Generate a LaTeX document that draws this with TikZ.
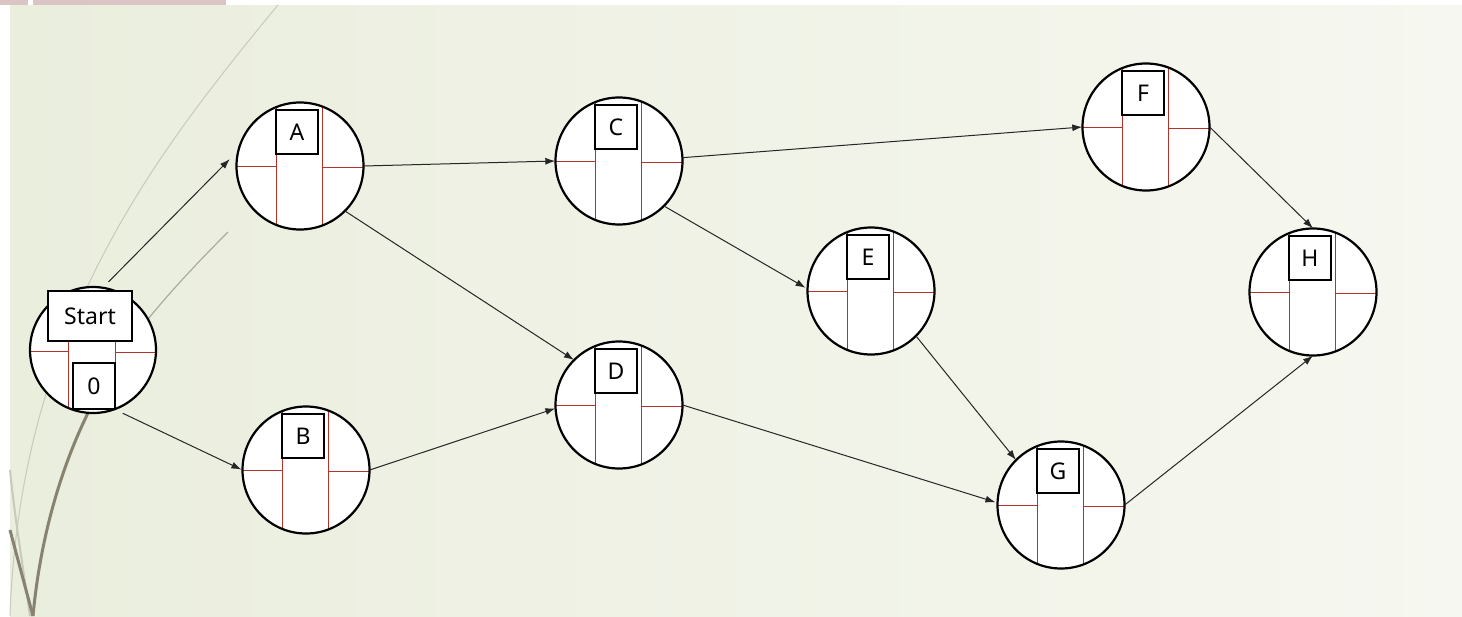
\documentclass[tikz,border=0pt]{standalone}
\usepackage{fontspec}
\setmainfont{Noto Sans}
\usetikzlibrary{arrows.meta,calc}

\definecolor{bgleft}{RGB}{234,238,221}
\definecolor{bgright}{RGB}{246,247,240}
\definecolor{divred}{RGB}{176,52,44}
\definecolor{wispthin}{RGB}{200,202,188}
\definecolor{wispmid}{RGB}{172,172,154}
\definecolor{wispdark}{RGB}{136,130,112}
\definecolor{tabpink}{RGB}{218,196,196}

\tikzset{
  ring/.style={draw=black, line width=2.2pt},
  actcircle/.style={circle, fill=white, inner sep=0pt, minimum size=127pt},
  divider/.style={draw=divred, line width=1pt},
  labelbox/.style={draw=black, line width=2pt, fill=white, inner sep=0pt,
    minimum width=42pt, minimum height=44pt, font=\fontsize{23}{26}\selectfont},
  arr/.style={draw=black!85, line width=1pt, -{Latex[length=10pt,width=7pt]}},
}

% activity circle: name, x, y, label
\newcommand\actnode[4]{%
  \node[actcircle] (#1) at (#2,#3) {};
  \begin{scope}[shift={(#2,#3)}]
    \draw[divider] (-24,-58.8) -- (-24,58.8);
    \draw[divider] (22,-59.6) -- (22,59.6);
    \draw[divider] (-63.5,0) -- (-24,0);
    \draw[divider] (22,1) -- (63.5,1);
  \end{scope}
  \draw[ring] (#1.center) circle[radius=63.5];
  \node[labelbox] (#1-lbl) at (#2-3,#3-34) {#4};
}

\begin{document}
\begin{tikzpicture}[x=1pt,y=-1pt]
  \useasboundingbox (0,0) rectangle (1462,616);
  % slide background
  \fill[white] (0,0) rectangle (1462,616);
  \fill[left color=bgleft, right color=bgright] (10,5) rectangle (1462,616);
  \fill[tabpink] (0,0) rectangle (28,5);
  \fill[tabpink] (33,0) rectangle (226,5);

  % decorative wisps
  \draw[wispthin, line width=1pt] (278,5) .. controls (150,160) and (20,330) .. (10,616);
  \draw[wispmid, line width=1.2pt] (228,232) .. controls (160,300) and (110,360) .. (88,413);
  \draw[wispdark, line width=3pt] (88,413) .. controls (60,470) and (40,540) .. (33,616);
  \draw[wispthin, line width=2pt] (10,470) .. controls (15,520) and (25,580) .. (30,616);
  \draw[wispdark, line width=3pt] (10,530) .. controls (18,560) and (26,590) .. (33,616);

  % start event
  \node[actcircle, minimum size=126pt] (Start) at (93,350) {};
  \draw[divider] (68,292.2) -- (68,407.8);
  \draw[divider] (115,291) -- (115,409);
  \draw[divider] (30,351) -- (68,351);
  \draw[divider] (115,352) -- (156,352);
  \draw[ring] (Start.center) circle[radius=63];
  \node[labelbox, minimum width=84pt, minimum height=50pt] (Start-lbl) at (90,316) {Start};
  \node[labelbox, minimum width=42pt, minimum height=46pt] (Start-zero) at (94,386) {0};

  % activities
  \actnode{A}{300}{166}{A}
  \actnode{B}{306}{470}{B}
  \actnode{C}{619}{161}{C}
  \actnode{D}{619}{405}{D}
  \actnode{E}{871}{291}{E}
  \actnode{F}{1146}{127}{F}
  \actnode{G}{1061}{505}{G}
  \actnode{H}{1313}{292}{H}

  % precedence arrows
  \draw[arr, shorten <=8pt, shorten >=12pt] (Start.81) -- (A.166);
  \draw[arr, shorten <=9pt, shorten >=1pt] (Start.-70) -- (B.west);
  \draw[arr] (A.east) -- (C.west);
  \draw[arr] (A.-45) -- (D.135);
  \draw[arr] (B.east) -- (D.183);
  \draw[arr] (C.3) -- (F.west);
  \draw[arr, shorten >=2pt] (C.-45) -- (E.178);
  \draw[arr] (E.-45) -- (G.135);
  \draw[arr, shorten >=2pt] (D.east) -- (G.178);
  \draw[arr] (F.east) -- (H.north);
  \draw[arr] (G.east) -- (H.south);
\end{tikzpicture}
\end{document}
